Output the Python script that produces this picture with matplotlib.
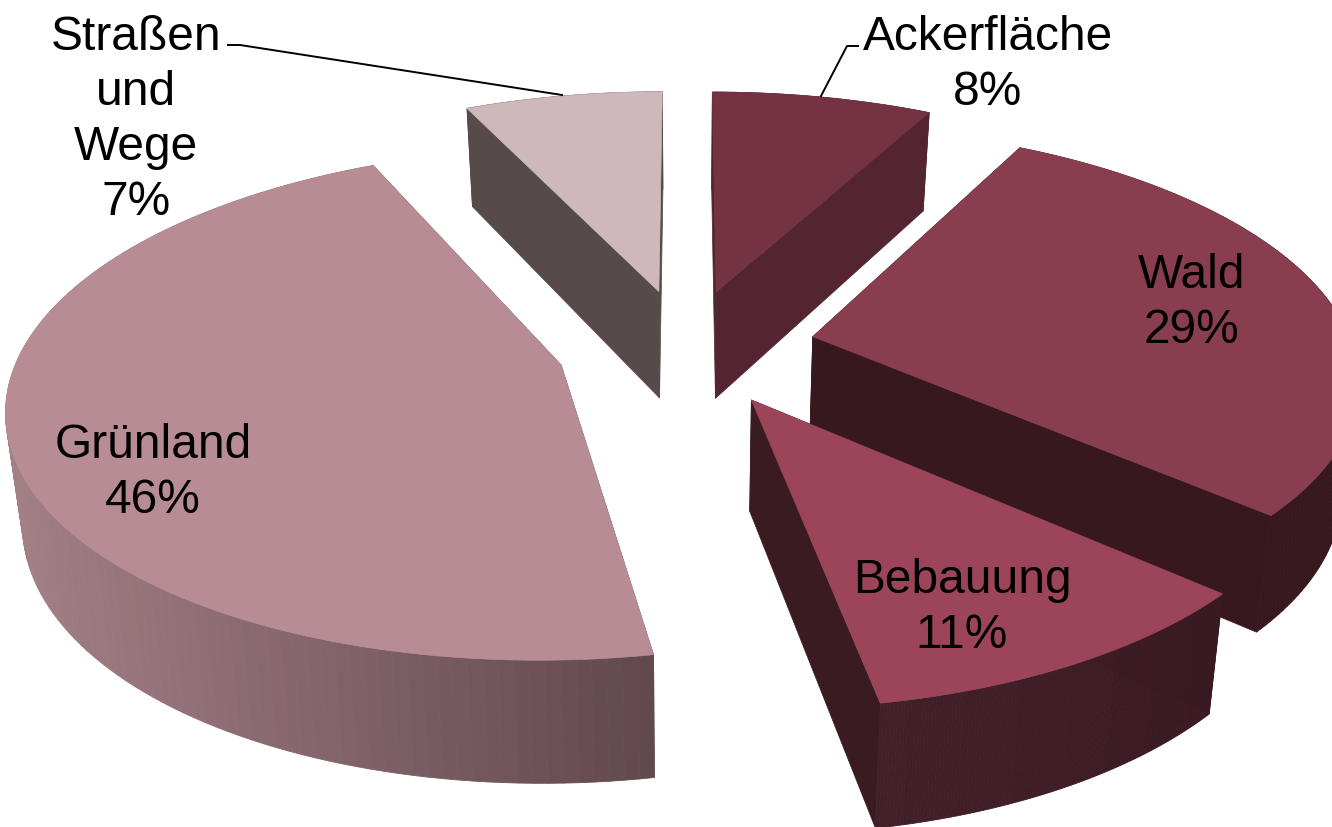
import numpy as np
import matplotlib
matplotlib.use("Agg")
import matplotlib.pyplot as plt
from matplotlib.colors import to_rgb
from matplotlib.patches import Polygon

plt.rcParams["font.family"] = ["Liberation Sans", "DejaVu Sans"]

labels = ["Ackerfläche", "Wald", "Bebauung", "Grünland", "Straßen\nund\nWege"]
values = [7.75, 28.85, 10.55, 45.9, 6.95]

top_colors = ["#743343", "#893E50", "#9C455A", "#B88C94", "#CFB8BC"]
wall_colors = ["#522531", "#37181F", "#3A1B22", "#62494E", "#564A4B"]
rim_left = ["#522531", "#37181F", "#42202A", "#A37F86", "#564A4B"]
rim_right = ["#522531", "#37181F", "#3A1A22", "#62494E", "#564A4B"]

label_pos = [(988, 65), (1192, 303), (962, 608), (153, 473), (136, 120)]

# Projektion: Kreis im Raum, Perspektive ueber w
CX, CY, F, G, P = 686, 348, 540, 245, 0.15
CY2, F2, G2 = 457, 0.975 * 540, 1.045 * 245
EXPLODE = 0.24


def project(x, y, bottom=False):
    w = 1 + P * y
    if bottom:
        return CX + F2 * x / w, CY2 - G2 * y / w
    return CX + F * x / w, CY - G * y / w


fig = plt.figure(figsize=(13.32, 8.28), dpi=100)
ax = fig.add_axes([0, 0, 1, 1])
ax.set_xlim(0, 1332)
ax.set_ylim(828, 0)
ax.axis("off")

total = sum(values)
edges = np.cumsum([0] + values) / total * 2 * np.pi
slices = []
for i in range(len(values)):
    mid = (edges[i] + edges[i + 1]) / 2
    ox, oy = EXPLODE * np.sin(mid), EXPLODE * np.cos(mid)
    t = np.linspace(edges[i], edges[i + 1], 120)
    slices.append((project(ox, oy)[1], i, ox, oy, t))

# von hinten nach vorne zeichnen
for _, i, ox, oy, t in sorted(slices, key=lambda s: s[0]):
    xs, ys = ox + np.sin(t), oy + np.cos(t)
    tx, ty = project(xs, ys)
    bx, by = project(xs, ys, True)
    ax0, ay0 = project(ox, oy)
    bx0, by0 = project(ox, oy, True)

    for j in (0, -1):
        ax.add_patch(Polygon([(ax0, ay0), (tx[j], ty[j]), (bx[j], by[j]), (bx0, by0)],
                             fc=wall_colors[i], ec=wall_colors[i], lw=0.5))

    c_l, c_r = np.array(to_rgb(rim_left[i])), np.array(to_rgb(rim_right[i]))
    xmin, xmax = tx.min(), tx.max()
    for j in range(len(t) - 1):
        f = (tx[j] - xmin) / (xmax - xmin)
        col = c_l + (c_r - c_l) * f
        ax.add_patch(Polygon([(tx[j], ty[j]), (tx[j + 1], ty[j + 1]),
                              (bx[j + 1], by[j + 1]), (bx[j], by[j])],
                             fc=col, ec=col, lw=0.6))

    ax.add_patch(Polygon(np.column_stack([np.r_[ax0, tx], np.r_[ay0, ty]]),
                         fc=top_colors[i], ec=top_colors[i], lw=0.5))

# Fuehrungslinien
ax.plot([228, 240, 562], [46, 46, 96], color="black", lw=1.4)
ax.plot([858, 847, 821], [47, 47, 97], color="black", lw=1.4)

for name, val, (x, y) in zip(labels, values, label_pos):
    ax.text(x, y, f"{name}\n{round(val)}%", ha="center", va="center",
            fontsize=34.5, color="black", linespacing=1.28)

fig.savefig("out.png", dpi=100, facecolor="white")
